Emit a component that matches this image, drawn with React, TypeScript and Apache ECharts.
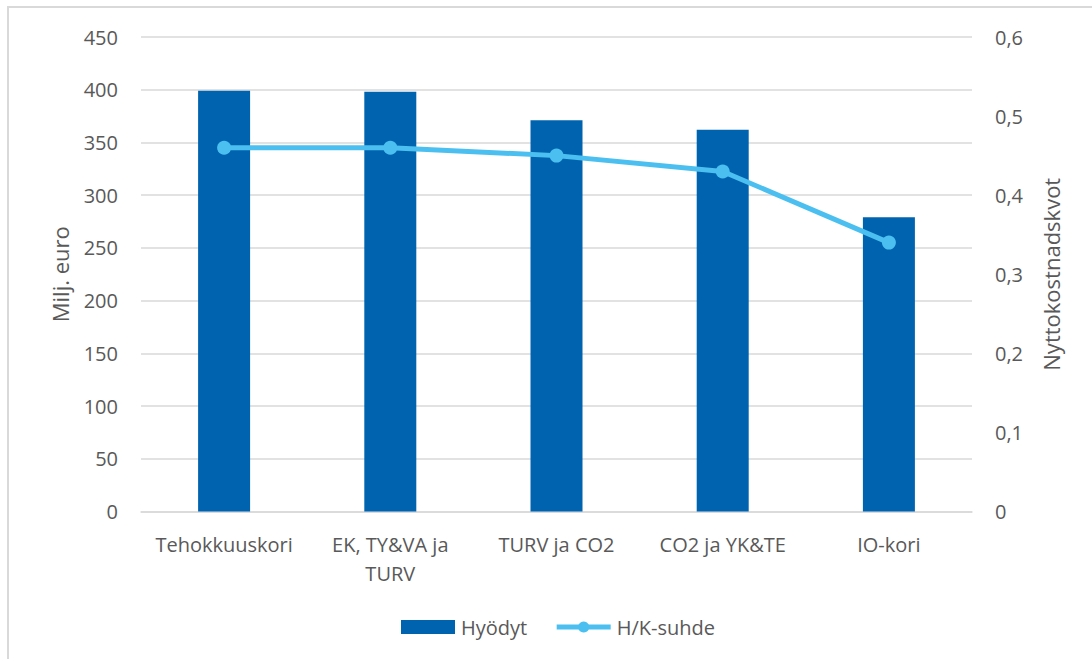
import React, { useEffect, useRef } from "react";
import * as echarts from "echarts";

const categories = ["Tehokkuuskori", "EK, TY&VA ja\nTURV", "TURV ja CO2", "CO2 ja YK&TE", "IO-kori"];
const hyodyt = [399, 398, 371, 362, 279];
const hkSuhde = [0.46, 0.46, 0.45, 0.43, 0.34];
const leftTicks = { min: 0, max: 450, interval: 50 };
const rightTicks = { min: 0, max: 0.6, interval: 0.1 };

const FONT = "'Open Sans', 'Noto Sans', sans-serif";
const TEXT = "#595959";
const FS = 20;

export default function App() {
  const ref = useRef<HTMLDivElement>(null);
  useEffect(() => {
    if (!ref.current) return;
    const chart = echarts.init(ref.current, null, { renderer: "svg" });
    chart.setOption({
      animation: false,
      textStyle: { fontFamily: FONT, color: TEXT },
      grid: { left: 141, right: 120, top: 37, bottom: 147.5, containLabel: false },
      legend: {
        bottom: 17,
        left: 396,
        itemGap: 27,
        itemWidth: 54,
        itemHeight: 14,
        textStyle: { fontFamily: FONT, fontSize: FS, color: TEXT, padding: [0, 0, 0, 1] },
        data: [
          { name: "Hyödyt", icon: "rect" },
          { name: "H/K-suhde", lineStyle: { width: 5 } },
        ],
      },
      xAxis: {
        type: "category",
        data: categories,
        axisLine: { lineStyle: { color: "#d9d9d9", width: 1.5 } },
        axisTick: { show: false },
        axisLabel: { fontFamily: FONT, fontSize: FS, color: TEXT, margin: 18, lineHeight: 29, interval: 0, hideOverlap: false },
      },
      yAxis: [
        {
          type: "value",
          min: leftTicks.min,
          max: leftTicks.max,
          interval: leftTicks.interval,
          name: "Milj. euro",
          nameLocation: "middle",
          nameGap: 70,
          nameRotate: 90,
          nameTextStyle: { fontFamily: FONT, fontSize: 22, color: TEXT },
          axisLabel: { fontFamily: FONT, fontSize: FS, color: TEXT, margin: 23 },
          splitLine: { lineStyle: { color: "#d9d9d9", width: 1.5 } },
          axisLine: { show: false },
          axisTick: { show: false },
        },
        {
          type: "value",
          min: rightTicks.min,
          max: rightTicks.max,
          interval: rightTicks.interval,
          position: "right",
          name: "Nyttokostnadskvot",
          nameLocation: "middle",
          nameGap: 68,
          nameRotate: 90,
          nameTextStyle: { fontFamily: FONT, fontSize: 22, color: TEXT },
          axisLabel: {
            fontFamily: FONT,
            fontSize: FS,
            color: TEXT,
            margin: 23,
            formatter: (v: number) => String(Math.round(v * 10) / 10).replace(".", ","),
          },
          splitLine: { show: false },
          axisLine: { show: false },
          axisTick: { show: false },
        },
      ],
      series: [
        {
          name: "Hyödyt",
          type: "bar",
          data: hyodyt,
          barWidth: 52,
          itemStyle: { color: "#0063AF" },
          yAxisIndex: 0,
        },
        {
          name: "H/K-suhde",
          type: "line",
          data: hkSuhde,
          yAxisIndex: 1,
          symbol: "circle",
          symbolSize: 14,
          lineStyle: { color: "#4BC0F0", width: 5 },
          itemStyle: { color: "#4BC0F0" },
        },
      ],
    });
    return () => chart.dispose();
  }, []);

  return (
    <div style={{ position: "absolute", left: 0, top: 0, width: 1092, height: 659, overflow: "hidden", background: "#fff" }}>
      <div
        style={{
          position: "absolute",
          left: 7,
          top: 6,
          width: 1200,
          height: 800,
          border: "2px solid #d9d9d9",
          boxSizing: "border-box",
        }}
      />
      <div ref={ref} style={{ position: "absolute", left: 0, top: 0, width: 1092, height: 659 }} />
    </div>
  );
}
